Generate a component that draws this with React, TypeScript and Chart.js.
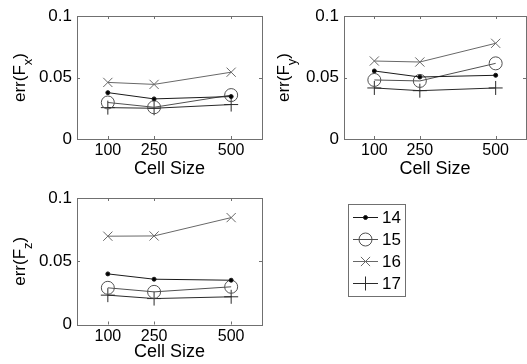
import React, { useEffect, useRef } from 'react';
import { Chart, registerables } from 'chart.js';
import { drawPoint } from 'chart.js/helpers';

Chart.register(...registerables);

// ---- data ----
const cellSizes = [100, 250, 500];
const xTickValues = [100, 250, 500];
const yTickValues = [0, 0.05, 0.1];
const seriesNames = ['14', '15', '16', '17'];

const fx14 = [0.0377, 0.0326, 0.0345];
const fx15 = [0.0297, 0.0258, 0.0357];
const fx16 = [0.0460, 0.0444, 0.0543];
const fx17 = [0.0255, 0.0250, 0.0280];

const fy14 = [0.0553, 0.0504, 0.0518];
const fy15 = [0.0480, 0.0472, 0.0615];
const fy16 = [0.0634, 0.0626, 0.0778];
const fy17 = [0.0415, 0.0393, 0.0415];

const fz14 = [0.0400, 0.0358, 0.0350];
const fz15 = [0.0290, 0.0258, 0.0298];
const fz16 = [0.0698, 0.0700, 0.0845];
const fz17 = [0.0232, 0.0205, 0.0219];

// ---- styles ----
const FONT = '"Liberation Sans", Arial, sans-serif';
const TICK_SIZE = 16;
const LABEL_SIZE = 18;
const AXIS_COLOR = '#707070';

const seriesStyles = [
  { color: '#1a1a1a', pointStyle: 'circle', radius: 2, fill: '#000000' },
  { color: '#505050', pointStyle: 'circle', radius: 6.5, fill: 'rgba(0,0,0,0)' },
  { color: '#686868', pointStyle: 'crossRot', radius: 6.5, fill: 'rgba(0,0,0,0)' },
  { color: '#2a2a2a', pointStyle: 'cross', radius: 7, fill: 'rgba(0,0,0,0)' },
];

type Geo = { left: number; top: number; width: number; height: number; yWidth: number; xHeight: number; padTop: number; padRight: number; titlePad: number };

const boxPlugin = {
  id: 'matlabBox',
  beforeDatasetsDraw(chart: any) {
    const { ctx, chartArea, scales } = chart;
    const { left, right, top, bottom } = chartArea;
    ctx.save();
    ctx.strokeStyle = AXIS_COLOR;
    ctx.lineWidth = 1;
    ctx.strokeRect(Math.round(left) + 0.5, Math.round(top) + 0.5, Math.round(right - left), Math.round(bottom - top));
    const tl = 3;
    ctx.beginPath();
    for (const v of xTickValues) {
      const px = Math.round(scales.x.getPixelForValue(v)) + 0.5;
      ctx.moveTo(px, bottom);
      ctx.lineTo(px, bottom - tl);
      ctx.moveTo(px, top);
      ctx.lineTo(px, top + tl);
    }
    for (const v of yTickValues) {
      const py = Math.round(scales.y.getPixelForValue(v)) + 0.5;
      ctx.moveTo(left, py);
      ctx.lineTo(left + tl, py);
      ctx.moveTo(right, py);
      ctx.lineTo(right - tl, py);
    }
    ctx.stroke();
    ctx.restore();
  },
};

function yLabelPlugin(sub: string, baseX: number) {
  return {
    id: 'yLabel',
    afterDraw(chart: any) {
      const { ctx, chartArea } = chart;
      const cy = (chartArea.top + chartArea.bottom) / 2;
      const mainFont = `${LABEL_SIZE - 1}px ${FONT}`;
      const subFont = `${LABEL_SIZE - 5}px ${FONT}`;
      ctx.save();
      ctx.translate(baseX, cy);
      ctx.rotate(-Math.PI / 2);
      ctx.fillStyle = '#000';
      ctx.textBaseline = 'alphabetic';
      ctx.textAlign = 'left';
      ctx.font = mainFont;
      const w1 = ctx.measureText('err(F').width;
      const w3 = ctx.measureText(')').width;
      ctx.font = subFont;
      const w2 = ctx.measureText(sub).width;
      const total = w1 + w2 + w3;
      let x = -total / 2;
      ctx.font = mainFont;
      ctx.fillText('err(F', x, 0);
      x += w1;
      ctx.font = subFont;
      ctx.fillText(sub, x, 7);
      x += w2;
      ctx.font = mainFont;
      ctx.fillText(')', x, 0);
      ctx.restore();
    },
  };
}

const legendPlugin = {
  id: 'customLegend',
  afterDraw(chart: any) {
    const { ctx } = chart;
    const bx = 348, by = 22, bw = 57, bh = 92;
    ctx.save();
    ctx.strokeStyle = AXIS_COLOR;
    ctx.lineWidth = 1;
    ctx.strokeRect(bx + 0.5, by + 0.5, bw, bh);
    const rows = [34.7, 57.3, 79, 100.7];
    seriesNames.forEach((name, i) => {
      const st = seriesStyles[i];
      const y = Math.round(rows[i]) + 0.5;
      ctx.strokeStyle = st.color;
      ctx.lineWidth = 1;
      ctx.beginPath();
      ctx.moveTo(353, y);
      ctx.lineTo(378, y);
      ctx.stroke();
      ctx.fillStyle = st.fill;
      ctx.strokeStyle = st.color;
      drawPoint(ctx, { pointStyle: st.pointStyle, radius: st.radius, rotation: 0, borderWidth: 1 } as any, 365.5, y);
      ctx.fillStyle = '#000';
      ctx.font = `${LABEL_SIZE - 1}px ${FONT}`;
      ctx.textBaseline = 'middle';
      ctx.textAlign = 'left';
      ctx.fillText(name, 382, y + 1);
    });
    ctx.restore();
  },
};

function makeConfig(series: number[][], sub: string, geo: Geo, labelX: number, extra: any[]) {
  return {
    type: 'line' as const,
    data: {
      datasets: series.map((vals, i) => ({
        label: seriesNames[i],
        data: cellSizes.map((c, j) => ({ x: c, y: vals[j] })),
        borderColor: seriesStyles[i].color,
        borderWidth: 1,
        pointStyle: seriesStyles[i].pointStyle,
        pointRadius: seriesStyles[i].radius,
        pointBackgroundColor: seriesStyles[i].fill,
        pointBorderColor: seriesStyles[i].color,
        pointBorderWidth: 1,
        fill: false,
        tension: 0,
      })),
    },
    options: {
      animation: false,
      responsive: false,
      devicePixelRatio: 1,
      events: [],
      layout: { padding: { top: geo.padTop, right: geo.padRight, left: 0, bottom: 0 } },
      plugins: { legend: { display: false }, tooltip: { enabled: false }, title: { display: false } },
      scales: {
        x: {
          type: 'linear',
          min: 0,
          max: 600,
          grid: { display: false, drawTicks: false },
          border: { display: false },
          afterBuildTicks: (s: any) => { s.ticks = xTickValues.map((v) => ({ value: v })); },
          afterFit: (s: any) => { s.height = geo.xHeight; },
          ticks: { color: '#000', padding: 2, maxRotation: 0, autoSkip: false, font: { family: FONT, size: TICK_SIZE }, callback: (v: any) => String(v) },
          title: { display: true, text: 'Cell Size', color: '#000', font: { family: FONT, size: LABEL_SIZE }, padding: { top: 0, bottom: geo.titlePad } },
        },
        y: {
          type: 'linear',
          min: 0,
          max: 0.1,
          grid: { display: false, drawTicks: false },
          border: { display: false },
          afterBuildTicks: (s: any) => { s.ticks = yTickValues.map((v) => ({ value: v })); },
          afterFit: (s: any) => { s.width = geo.yWidth; },
          ticks: { color: '#000', padding: 5, autoSkip: false, font: { family: FONT, size: TICK_SIZE + 1 }, callback: (v: any) => String(v) },
        },
      },
    },
    plugins: [boxPlugin, yLabelPlugin(sub, labelX), ...extra],
  };
}

const geos: Geo[] = [
  { left: 0, top: 0, width: 272, height: 182, yWidth: 77, xHeight: 43, padTop: 16, padRight: 10, titlePad: 2 },
  { left: 264, top: 0, width: 270, height: 182, yWidth: 80, xHeight: 43, padTop: 16, padRight: 6, titlePad: 2 },
  { left: 0, top: 182, width: 527, height: 182, yWidth: 77, xHeight: 39.5, padTop: 16, padRight: 265, titlePad: 1 },
];

function Panel({ idx, series, sub, labelX, extra }: { idx: number; series: number[][]; sub: string; labelX: number; extra: any[] }) {
  const ref = useRef<HTMLCanvasElement | null>(null);
  const geo = geos[idx];
  useEffect(() => {
    if (!ref.current) return;
    const chart = new Chart(ref.current, makeConfig(series, sub, geo, labelX, extra) as any);
    return () => chart.destroy();
  }, []);
  return (
    <canvas
      ref={ref}
      width={geo.width}
      height={geo.height}
      style={{ position: 'absolute', left: geo.left, top: geo.top, width: geo.width, height: geo.height }}
    />
  );
}

export default function App() {
  return (
    <div style={{ position: 'absolute', left: 0, top: 0, width: 527, height: 364, overflow: 'hidden', background: '#fff' }}>
      <Panel idx={0} series={[fx14, fx15, fx16, fx17]} sub="x" labelX={25} extra={[]} />
      <Panel idx={1} series={[fy14, fy15, fy16, fy17]} sub="y" labelX={25} extra={[]} />
      <Panel idx={2} series={[fz14, fz15, fz16, fz17]} sub="z" labelX={25} extra={[legendPlugin]} />
    </div>
  );
}
